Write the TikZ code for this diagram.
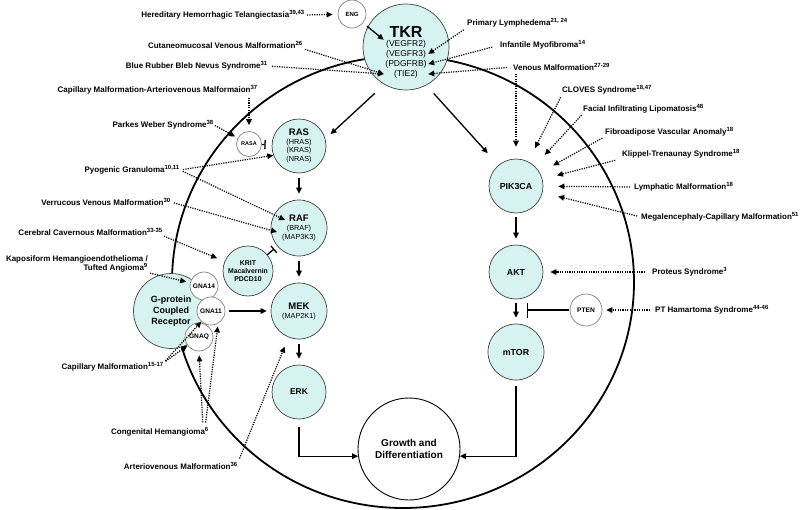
\documentclass[tikz,border=0pt]{standalone}
\usepackage{fontspec}
\setmainfont{Liberation Sans}
\usetikzlibrary{arrows.meta,calc}
\definecolor{genefill}{RGB}{214,243,242}
\tikzset{
    gene/.style={circle, draw=black!75, fill=genefill, line width=0.7pt, inner sep=0pt, align=center},
    ring/.style={circle, draw=black!50, fill=white, line width=0.7pt, inner sep=0pt, align=center},
    disease/.style={font=\fontsize{8}{9.5}\selectfont\bfseries, inner sep=0pt},
    tkrline/.style={font=\fontsize{8.5}{9}\selectfont, inner sep=0pt, minimum width=44pt},
    sig/.style={line width=1.3pt, -{Triangle[length=6pt,width=5.5pt]}},
    assoc/.style={line width=1.2pt, dash pattern=on 1.2pt off 1.2pt, -{Triangle[length=6pt,width=5.5pt]}},
    block/.style={line width=1.3pt, -{Bar[width=15pt]}},
}

\begin{document}
\begin{tikzpicture}[x=1pt,y=-1pt]
    \useasboundingbox (0,0) rectangle (800,509);
    % cell membrane
    \draw[line width=1.8pt] (403,282) ellipse [x radius=231pt, y radius=226pt];

    % receptor at the top
    \node[gene, minimum size=86pt] (TKR) at (406,47) {};
    \node[font=\fontsize{16}{16}\selectfont\bfseries, inner sep=0pt] (tkrname) at (406,32) {TKR};
    \node[tkrline] (vegfr2) at (406,44) {(VEGFR2)};
    \node[tkrline] (vegfr3) at (406,54) {(VEGFR3)};
    \node[tkrline] (pdgfrb) at (406,64) {(PDGFRB)};
    \node[tkrline] (tie2) at (406,74) {(TIE2)};
    \node[ring, minimum size=28pt, font=\fontsize{6}{6}\selectfont\bfseries] (ENG) at (352,14) {ENG};

    % RAS branch
    \node[gene, minimum size=54pt, font=\fontsize{7.3}{8.6}\selectfont] (RAS) at (299,146)
        {{\fontsize{9.5}{9.5}\selectfont\bfseries RAS}\\(HRAS)\\(KRAS)\\(NRAS)};
    \node[ring, minimum size=25pt, font=\fontsize{5.5}{6}\selectfont\bfseries] (RASA) at (249,144) {RASA};
    \node[gene, minimum size=56pt, font=\fontsize{7.3}{8.6}\selectfont] (RAF) at (299,228)
        {{\fontsize{9.5}{9.5}\selectfont\bfseries RAF}\\(BRAF)\\(MAP3K3)};
    \coordinate (rafhit1) at ($(RAF)+(-14,-8)$);
    \coordinate (rafhit2) at ($(RAF)+(-22,4)$);
    \node[gene, minimum size=50pt, font=\fontsize{6.9}{8}\selectfont\bfseries] (KRIT) at (248,271)
        {KRIT\\Macalvernin\\PDCD10};
    \node[gene, minimum size=56pt, font=\fontsize{7.3}{9}\selectfont] (MEK) at (299,311)
        {{\fontsize{9.5}{9.5}\selectfont\bfseries MEK}\\(MAP2K1)};
    \node[gene, minimum size=54pt, font=\fontsize{8.5}{9}\selectfont\bfseries] (ERK) at (299,392) {ERK};

    % G-protein coupled receptor
    \node[gene, minimum size=75pt, font=\fontsize{9}{11}\selectfont\bfseries] (GPCR) at (171,311)
        {G-protein\\Coupled\\Receptor};
    \node[ring, minimum size=28pt, font=\fontsize{6.6}{7}\selectfont\bfseries] (GNA14) at (204,286) {GNA14};
    \node[ring, minimum size=28pt, font=\fontsize{6.6}{7}\selectfont\bfseries] (GNA11) at (211,311) {GNA11};
    \node[ring, minimum size=28pt, font=\fontsize{6.6}{7}\selectfont\bfseries] (GNAQ) at (199,337) {GNAQ};

    % PI3K branch
    \node[gene, minimum size=54pt, font=\fontsize{8.8}{9}\selectfont\bfseries] (PIK3CA) at (516,186) {PIK3CA};
    \node[gene, minimum size=54pt, font=\fontsize{8.8}{9}\selectfont\bfseries] (AKT) at (516,272) {AKT};
    \node[gene, minimum size=56pt, font=\fontsize{8.8}{9}\selectfont\bfseries] (mTOR) at (516,352) {mTOR};
    \node[ring, minimum size=32pt, font=\fontsize{6.6}{7}\selectfont\bfseries] (PTEN) at (586,310) {PTEN};
    \coordinate (aktstop) at (527,310);

    \node[ring, draw=black, line width=0.9pt, minimum size=102pt, font=\fontsize{10}{12}\selectfont\bfseries]
        (Growth) at (409,449) {Growth and\\Differentiation};

    % signalling
    \draw[sig, shorten <=5pt] (ENG) -- (vegfr2.north west);
    \draw[sig, shorten <=13pt, shorten >=7pt] (TKR.240) -- (RAS.15);
    \draw[sig, shorten <=11pt, shorten >=16pt] (TKR.298) -- (PIK3CA.130);
    \draw[sig, shorten <=5pt, shorten >=6pt] (RAS) -- (RAF);
    \draw[sig, shorten <=5pt, shorten >=6pt] (RAF) -- (MEK);
    \draw[sig, shorten <=5pt, shorten >=6pt] (MEK) -- (ERK);
    \draw[sig, shorten <=4pt, shorten >=4pt] (GNA11) -- (MEK);
    \draw[sig, shorten <=8pt] (ERK.south) |- (Growth.188);
    \draw[sig, shorten <=4pt, shorten >=6pt] (PIK3CA) -- (AKT);
    \draw[sig, shorten <=4pt, shorten >=6pt] (AKT) -- (mTOR);
    \draw[sig, shorten <=6pt] (mTOR.south) |- (Growth.352);
    \draw[block, shorten <=1pt] (PTEN) -- (aktstop);
    \draw[line width=1.3pt, -{Bar[width=9pt]}, shorten >=6pt] (RASA) -- (RAS);
    \draw[line width=1.3pt, -{Bar[width=9pt]}, shorten >=4pt] (KRIT) -- (RAF);

    % disorders, left
    \node[disease, anchor=east] (hht) at (305,15) {Hereditary Hemorrhagic Telangiectasia\textsuperscript{39,43}};
    \node[disease, anchor=east] (cvm) at (303,45) {Cutaneomucosal Venous Malformation\textsuperscript{26}};
    \node[disease, anchor=east] (brb) at (268,66) {Blue Rubber Bleb Nevus Syndrome\textsuperscript{31}};
    \node[disease, anchor=east] (cmavm) at (258,90) {Capillary Malformation-Arteriovenous Malformaion\textsuperscript{37}};
    \node[disease, anchor=east] (pws) at (214,125) {Parkes Weber Syndrome\textsuperscript{38}};
    \node[disease, anchor=east] (pg) at (180,170) {Pyogenic Granuloma\textsuperscript{10,11}};
    \node[disease, anchor=east] (vvm) at (171,202) {Verrucous Venous Malformation\textsuperscript{30}};
    \node[disease, anchor=east] (ccm) at (163,232) {Cerebral Cavernous Malformation\textsuperscript{33-35}};
    \node[disease, anchor=east, align=right] (kht) at (148,264) {Kaposiform Hemangioendothelioma /\\Tufted Angioma\textsuperscript{9}};
    \node[disease, anchor=east] (cm) at (164,367) {Capillary Malformation\textsuperscript{15-17}};
    \node[disease, anchor=east] (ch) at (209,432) {Congenital Hemangioma\textsuperscript{6}};
    \node[disease, anchor=east] (avm) at (238,466) {Arteriovenous Malformation\textsuperscript{36}};

    \draw[assoc, shorten <=2pt, shorten >=5pt] (hht.east) -- (ENG);
    \draw[assoc, shorten <=2pt] (cvm.south east) -- (tie2.west);
    \draw[assoc, shorten <=4pt] (brb.east) -- (tie2.west);
    \draw[assoc, shorten <=3pt, shorten >=6pt] (RASA.north |- cmavm.south) -- (RASA.north);
    \draw[assoc, shorten <=1pt, shorten >=3pt] (pws.east) -- (RASA);
    \draw[assoc, shorten <=3pt] (pg.east) -- (RAS.200);
    \draw[assoc, shorten <=3pt] (pg.east) -- (rafhit1);
    \draw[assoc, shorten <=3pt] (vvm.east) -- (rafhit2);
    \draw[assoc, shorten <=1pt, shorten >=8pt] (ccm.south east) -- (KRIT);
    \draw[assoc, shorten <=2pt, shorten >=4pt] (kht.south east) -- (GNA14);
    \draw[assoc, shorten <=2pt] (cm.north east) -- (GNA11);
    \draw[assoc, shorten <=2pt] (cm.north east) -- (GNAQ);
    \draw[assoc, shorten <=5pt, shorten >=4pt] ([xshift=-6pt]ch.north east) -- (GNAQ.south);
    \draw[assoc, shorten <=5pt, shorten >=3pt] ([xshift=-4pt]ch.north east) -- (GNA11.300);
    \draw[assoc, shorten <=4pt, shorten >=10pt] (avm.north east) -- (MEK);

    % disorders, right
    \node[disease, anchor=west] (pl) at (467,23) {Primary Lymphedema\textsuperscript{21, 24}};
    \node[disease, anchor=west] (im) at (500,45) {Infantile Myofibroma\textsuperscript{14}};
    \node[disease, anchor=west] (vm) at (513,67) {Venous Malformation\textsuperscript{27-29}};
    \node[disease, anchor=west] (cloves) at (562,90) {CLOVES Syndrome\textsuperscript{18,47}};
    \node[disease, anchor=west] (fil) at (583,109) {Facial Infiltrating Lipomatosis\textsuperscript{48}};
    \node[disease, anchor=west] (fava) at (605,132) {Fibroadipose Vascular Anomaly\textsuperscript{18}};
    \node[disease, anchor=west] (kts) at (622,154) {Klippel-Trenaunay Syndrome\textsuperscript{18}};
    \node[disease, anchor=west] (lm) at (634,187) {Lymphatic Malformation\textsuperscript{18}};
    \node[disease, anchor=west] (mcap) at (641,217) {Megalencephaly-Capillary Malformation\textsuperscript{51}};
    \node[disease, anchor=west] (ps) at (652,272) {Proteus Syndrome\textsuperscript{3}};
    \node[disease, anchor=west] (pth) at (655,310) {PT Hamartoma Syndrome\textsuperscript{44-46}};

    \draw[assoc, shorten <=4pt] (pl.south west) -- (vegfr3.east);
    \draw[assoc, shorten <=8pt] (im.west) -- (pdgfrb.east);
    \draw[assoc, shorten <=6pt] (vm.west) -- (tie2.east);
    \draw[assoc, shorten <=3pt, shorten >=12pt] (PIK3CA.north |- vm.south) -- (PIK3CA.north);
    \draw[assoc, shorten <=3pt, shorten >=15pt] (cloves.south west) -- (PIK3CA);
    \draw[assoc, shorten <=2pt, shorten >=15pt] (fil.south west) -- (PIK3CA);
    \draw[assoc, shorten <=3pt, shorten >=15pt] (fava.south west) -- (PIK3CA);
    \draw[assoc, shorten <=7pt, shorten >=15pt] (kts.south west) -- (PIK3CA);
    \draw[assoc, shorten <=4pt, shorten >=15pt] (lm.west) -- (PIK3CA);
    \draw[assoc, shorten <=4pt, shorten >=16pt] (mcap.west) -- (PIK3CA);
    \draw[assoc, shorten <=7pt, shorten >=7pt] (ps.west) -- (AKT);
    \draw[assoc, shorten <=5pt, shorten >=4pt] (pth.west) -- (PTEN);
\end{tikzpicture}
\end{document}
